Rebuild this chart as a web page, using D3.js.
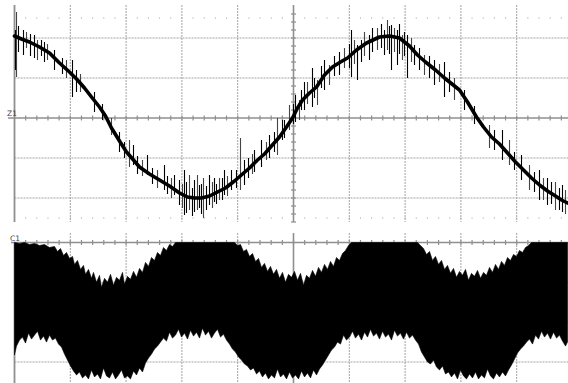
<!DOCTYPE html>
<html>
<head>
<meta charset="utf-8">
<script src="https://cdn.jsdelivr.net/npm/d3@7"></script>
<style>
  html, body { margin: 0; background: #fff; }
  svg { display: block; }
</style>
</head>
<body>
<div id="chart"></div>
<script>
// Z1 (zoom trace): [time, level]
const z1Trace = [
  [0, 82], [7, 79], [15, 76], [25, 71], [35, 65], [45, 55], [55, 46], [63, 38], [70, 30], [77, 21],
  [85, 11], [91, 2], [97, -10], [105, -23], [112, -34], [119, -42], [125, -49], [135, -56], [145, -62],
  [155, -68], [165, -75], [173, -79], [180, -80], [187, -80], [195, -78], [203, -74], [211, -70],
  [220, -63], [228, -56], [235, -50], [243, -42], [250, -36], [257, -28], [265, -19], [272, -9],
  [278, 0], [283, 10], [288, 18], [295, 25], [302, 31], [310, 43], [318, 51], [326, 56], [333, 60],
  [342, 68], [352, 75], [365, 81], [375, 82], [385, 80], [395, 72], [403, 63], [411, 56], [421, 48],
  [430, 40], [445, 28], [453, 16], [462, 1], [469, -9], [477, -19], [485, -26], [493, -35], [501, -44],
  [509, -52], [517, -60], [525, -67], [533, -73], [541, -78], [547, -82], [553, -85]
];

// Z1 noise bursts: [time, high, low]
const z1Spikes = [
  [1, 88, 48], [2, 106, 41], [4, 92, 66], [9, 88, 63], [12, 86, 70], [16, 84, 62], [20, 83, 60],
  [23, 78, 58], [27, 78, 62], [30, 76, 56], [33, 74, 58], [40, 68, 48], [48, 60, 44], [52, 58, 40],
  [58, 58, 21], [62, 48, 26], [66, 44, 26], [80, 26, 6], [88, 14, -2], [97, 0, -17], [105, -14, -34],
  [110, -24, -40], [115, -22, -49], [119, -27, -47], [123, -38, -56], [128, -42, -58], [133, -37, -57],
  [138, -50, -66], [143, -52, -70], [150, -47, -72], [153, -58, -76], [157, -60, -80], [160, -57, -77],
  [165, -62, -87], [168, -66, -90], [170, -52, -97], [172, -64, -95], [175, -57, -92], [178, -70, -98],
  [180, -62, -94], [183, -57, -92], [185, -67, -90], [187, -66, -96], [189, -60, -100], [192, -68, -92],
  [195, -57, -87], [198, -64, -90], [200, -60, -84], [202, -66, -86], [205, -60, -82], [208, -60, -82],
  [210, -52, -77], [213, -58, -78], [217, -52, -72], [222, -52, -70], [226, -20, -72], [230, -42, -67],
  [234, -40, -60], [238, -36, -56], [240, -32, -54], [247, -22, -49], [252, -24, -42], [255, -17, -40],
  [260, -14, -34], [263, 0, -37], [268, -2, -22], [270, -2, -20], [275, 13, -12], [279, 14, -6],
  [281, 23, -4], [285, 18, -2], [287, 28, 8], [290, 36, 8], [293, 36, 14], [298, 50, 11], [300, 40, 20],
  [303, 38, 13], [307, 52, 30], [310, 58, 28], [315, 53, 33], [320, 62, 42], [325, 66, 43],
  [330, 70, 50], [335, 74, 50], [337, 88, 41], [340, 78, 54], [343, 73, 38], [347, 78, 56],
  [350, 86, 62], [355, 83, 58], [358, 90, 66], [363, 90, 68], [367, 94, 70], [370, 88, 63],
  [373, 98, 68], [375, 92, 64], [377, 93, 48], [380, 90, 66], [383, 88, 53], [385, 94, 64],
  [388, 83, 58], [390, 86, 62], [393, 83, 40], [397, 80, 56], [400, 73, 53], [405, 70, 48],
  [410, 63, 43], [415, 62, 40], [420, 58, 33], [425, 54, 36], [430, 56, 21], [435, 46, 26],
  [440, 40, 18], [450, 28, 8], [460, 12, -6], [475, -7, -30], [480, -12, -32], [488, -12, -42],
  [495, -22, -47], [500, -34, -52], [507, -37, -62], [515, -47, -72], [520, -54, -74], [525, -52, -82],
  [529, -60, -82], [533, -60, -87], [537, -64, -86], [541, -64, -92], [545, -70, -92], [548, -67, -94],
  [551, -72, -96]
];

// C1 (full record) envelope: [time, level]
const c1Upper = [
  [0, 60], [5, 59], [10, 60], [15, 58], [20, 59], [25, 57], [30, 58], [35, 55], [40, 56], [43, 51],
  [46, 54], [49, 47], [52, 50], [55, 44], [58, 46], [60, 38], [63, 42], [66, 33], [69, 37], [71, 28],
  [74, 33], [77, 24], [79, 30], [82, 20], [85, 27], [87, 15], [90, 24], [93, 20], [96, 28], [99, 17],
  [102, 25], [105, 22], [108, 30], [110, 18], [113, 26], [116, 23], [119, 31], [122, 25], [125, 34],
  [128, 30], [131, 40], [134, 36], [137, 45], [140, 42], [143, 50], [146, 47], [149, 55], [152, 52],
  [155, 58], [158, 56], [161, 60], [220, 60], [223, 57], [226, 58], [229, 51], [232, 53], [235, 46],
  [238, 49], [241, 41], [244, 44], [247, 35], [250, 39], [253, 31], [256, 36], [259, 28], [262, 33],
  [265, 24], [268, 30], [271, 20], [274, 28], [277, 25], [280, 31], [283, 22], [286, 29], [289, 17],
  [292, 27], [295, 24], [298, 32], [301, 26], [304, 35], [307, 30], [310, 38], [313, 33], [316, 41],
  [319, 36], [322, 45], [325, 42], [328, 49], [331, 52], [334, 57], [337, 60], [403, 60], [406, 57],
  [409, 54], [412, 48], [415, 51], [418, 42], [421, 46], [424, 38], [427, 42], [430, 33], [433, 37],
  [436, 29], [439, 34], [442, 25], [445, 31], [448, 27], [451, 33], [454, 22], [457, 29], [460, 26],
  [463, 32], [466, 24], [469, 30], [472, 27], [475, 35], [478, 30], [481, 38], [484, 33], [487, 41],
  [490, 37], [493, 45], [496, 42], [499, 48], [502, 46], [505, 52], [508, 50], [511, 55], [514, 57],
  [517, 60], [553, 60]
];
const c1Lower = [
  [0, -53], [2, -44], [5, -38], [8, -35], [11, -41], [14, -31], [17, -37], [20, -33], [23, -29],
  [26, -38], [29, -34], [32, -40], [35, -33], [38, -38], [41, -36], [44, -42], [47, -45], [50, -52],
  [53, -58], [56, -64], [59, -69], [62, -73], [65, -70], [68, -76], [71, -73], [74, -77], [77, -68],
  [80, -75], [83, -72], [86, -77], [89, -66], [92, -74], [95, -76], [98, -70], [101, -77], [104, -73],
  [107, -68], [110, -76], [113, -74], [116, -77], [119, -69], [122, -73], [125, -66], [128, -70],
  [131, -61], [134, -56], [137, -52], [140, -47], [143, -44], [146, -40], [149, -36], [152, -39],
  [155, -30], [158, -36], [161, -33], [164, -27], [167, -35], [170, -31], [173, -37], [176, -28],
  [179, -34], [182, -30], [185, -36], [188, -26], [191, -33], [194, -29], [197, -36], [200, -31],
  [203, -27], [206, -35], [209, -32], [212, -38], [215, -42], [218, -47], [221, -50], [224, -55],
  [227, -58], [230, -62], [233, -64], [236, -68], [239, -66], [242, -72], [245, -69], [248, -75],
  [251, -71], [254, -77], [257, -73], [260, -76], [263, -67], [266, -75], [269, -72], [272, -77],
  [275, -70], [278, -76], [281, -73], [284, -77], [287, -69], [290, -75], [293, -71], [296, -76],
  [299, -68], [302, -73], [305, -67], [308, -63], [311, -58], [314, -53], [317, -48], [320, -45],
  [323, -40], [326, -42], [329, -33], [332, -38], [335, -35], [338, -29], [341, -36], [344, -32],
  [347, -38], [350, -30], [353, -35], [356, -27], [359, -34], [362, -31], [365, -37], [368, -29],
  [371, -35], [374, -32], [377, -38], [380, -28], [383, -34], [386, -31], [389, -37], [392, -30],
  [395, -36], [398, -33], [401, -38], [404, -42], [407, -50], [410, -55], [413, -60], [416, -62],
  [419, -58], [422, -65], [425, -68], [428, -64], [431, -72], [434, -70], [437, -75], [440, -71],
  [443, -77], [446, -68], [449, -74], [452, -77], [455, -72], [458, -76], [461, -70], [464, -77],
  [467, -73], [470, -76], [473, -67], [476, -74], [479, -77], [482, -71], [485, -75], [488, -70],
  [491, -74], [494, -68], [497, -63], [500, -57], [503, -51], [506, -47], [509, -44], [512, -40],
  [515, -37], [518, -42], [521, -33], [524, -37], [527, -29], [530, -35], [533, -31], [536, -37],
  [539, -30], [542, -36], [545, -33], [548, -39], [551, -44], [553, -40]
];

const traceLabels = ['Z1', 'C1'];
const divX = d3.range(1, 10);
const topGridLevels = [-80, -40, 40, 80];
const bottomGridLevels = [20, -20, -60];

const width = 568;
const height = 383;
const div = 55.8;
const gridColor = '#a3a3a3';
const axisColor = '#8f8f8f';

const svg = d3.select('#chart').append('svg').attr('width', width).attr('height', height);

const x = d3.scaleLinear().domain([0, 558]).range([14.5, 572.5]);
const yTop = d3.scaleLinear().domain([-100, 100]).range([218, 18]);
const yBot = d3.scaleLinear().domain([-60, 60]).range([362, 242.5]);

/* Graticule, top (Z1)
=========================================================================*/
const gTop = svg.append('g');

gTop.selectAll('.vgrid').data(divX.filter(d => d !== 5)).enter().append('line')
  .attr('x1', d => x(d * div)).attr('x2', d => x(d * div))
  .attr('y1', 5).attr('y2', 222)
  .attr('stroke', gridColor).attr('stroke-dasharray', '2,1');

gTop.selectAll('.hgrid').data(topGridLevels).enter().append('line')
  .attr('x1', x(0)).attr('x2', width)
  .attr('y1', d => yTop(d)).attr('y2', d => yTop(d))
  .attr('stroke', gridColor).attr('stroke-dasharray', '2,1');

const minorX = d3.range(1, 50).map(i => i * div / 5);
[100, -100].forEach(v => {
  gTop.selectAll(null).data(minorX).enter().append('rect')
    .attr('x', d => x(d) - 0.5).attr('y', yTop(v) - 0.5)
    .attr('width', 1).attr('height', 1).attr('fill', '#999');
});

// centre cross with ticks
gTop.append('line').attr('x1', 8).attr('x2', width)
  .attr('y1', yTop(0)).attr('y2', yTop(0)).attr('stroke', axisColor).attr('stroke-width', 1.6);
gTop.selectAll(null).data(minorX).enter().append('line')
  .attr('x1', d => x(d)).attr('x2', d => x(d))
  .attr('y1', yTop(0) - 2.5).attr('y2', yTop(0) + 2.5)
  .attr('stroke', axisColor).attr('stroke-width', 1.2);

gTop.append('line').attr('x1', x(5 * div)).attr('x2', x(5 * div))
  .attr('y1', 5).attr('y2', 222).attr('stroke', axisColor).attr('stroke-width', 1.6);
gTop.selectAll(null).data(d3.range(-104, 112, 8)).enter().append('line')
  .attr('x1', x(5 * div) - 2.5).attr('x2', x(5 * div) + 2.5)
  .attr('y1', d => yTop(d)).attr('y2', d => yTop(d))
  .attr('stroke', axisColor).attr('stroke-width', 1.2);

gTop.append('line').attr('x1', x(0)).attr('x2', x(0))
  .attr('y1', 5).attr('y2', 222).attr('stroke', axisColor).attr('stroke-width', 1.8);

/* Graticule, bottom (C1)
=========================================================================*/
const gBot = svg.append('g');

gBot.selectAll(null).data(divX).enter().append('line')
  .attr('x1', d => x(d * div)).attr('x2', d => x(d * div))
  .attr('y1', 233).attr('y2', height)
  .attr('stroke', d => d === 5 ? axisColor : gridColor)
  .attr('stroke-width', d => d === 5 ? 1.6 : 1)
  .attr('stroke-dasharray', d => d === 5 ? null : '2,1');

gBot.selectAll(null).data(bottomGridLevels).enter().append('line')
  .attr('x1', x(0)).attr('x2', width)
  .attr('y1', d => yBot(d)).attr('y2', d => yBot(d))
  .attr('stroke', gridColor).attr('stroke-dasharray', '2,1');

gBot.append('line').attr('x1', 11).attr('x2', width)
  .attr('y1', yBot(60)).attr('y2', yBot(60)).attr('stroke', axisColor).attr('stroke-width', 1.6);
gBot.selectAll(null).data(minorX).enter().append('line')
  .attr('x1', d => x(d)).attr('x2', d => x(d))
  .attr('y1', yBot(60) - 2.5).attr('y2', yBot(60) + 2.5)
  .attr('stroke', axisColor).attr('stroke-width', 1.2);

gBot.append('line').attr('x1', x(0)).attr('x2', x(0))
  .attr('y1', 242).attr('y2', height).attr('stroke', axisColor).attr('stroke-width', 1.8);

/* Traces
=========================================================================*/
const lineTop = d3.line().x(d => x(d[0])).y(d => yTop(d[1]));

svg.append('g').selectAll('line').data(z1Spikes).enter().append('line')
  .attr('x1', d => x(d[0])).attr('x2', d => x(d[0]))
  .attr('y1', d => yTop(d[1])).attr('y2', d => yTop(d[2]))
  .attr('stroke', (d, i) => i % 3 === 1 ? '#444' : '#000')
  .attr('stroke-width', 1.1);

svg.append('path').datum(z1Trace)
  .attr('d', lineTop)
  .attr('fill', 'none').attr('stroke', '#000')
  .attr('stroke-width', 3.6).attr('stroke-linejoin', 'round').attr('stroke-linecap', 'round');

const band = c1Upper.concat(c1Lower.slice().reverse());
const lineBot = d3.line().x(d => x(d[0])).y(d => yBot(d[1]));
svg.append('path').datum(band)
  .attr('d', d => lineBot(d) + 'Z')
  .attr('fill', '#000').attr('stroke', '#000').attr('stroke-width', 0.6);

/* Labels
=========================================================================*/
svg.selectAll('.lbl').data(traceLabels).enter().append('text')
  .attr('x', (d, i) => i === 0 ? 7 : 10)
  .attr('y', (d, i) => i === 0 ? yTop(0) - 2 : yBot(60) - 2)
  .attr('font-family', 'DejaVu Sans, sans-serif')
  .attr('font-size', 7.5)
  .attr('fill', '#444')
  .text(d => d);
</script>
</body>
</html>
